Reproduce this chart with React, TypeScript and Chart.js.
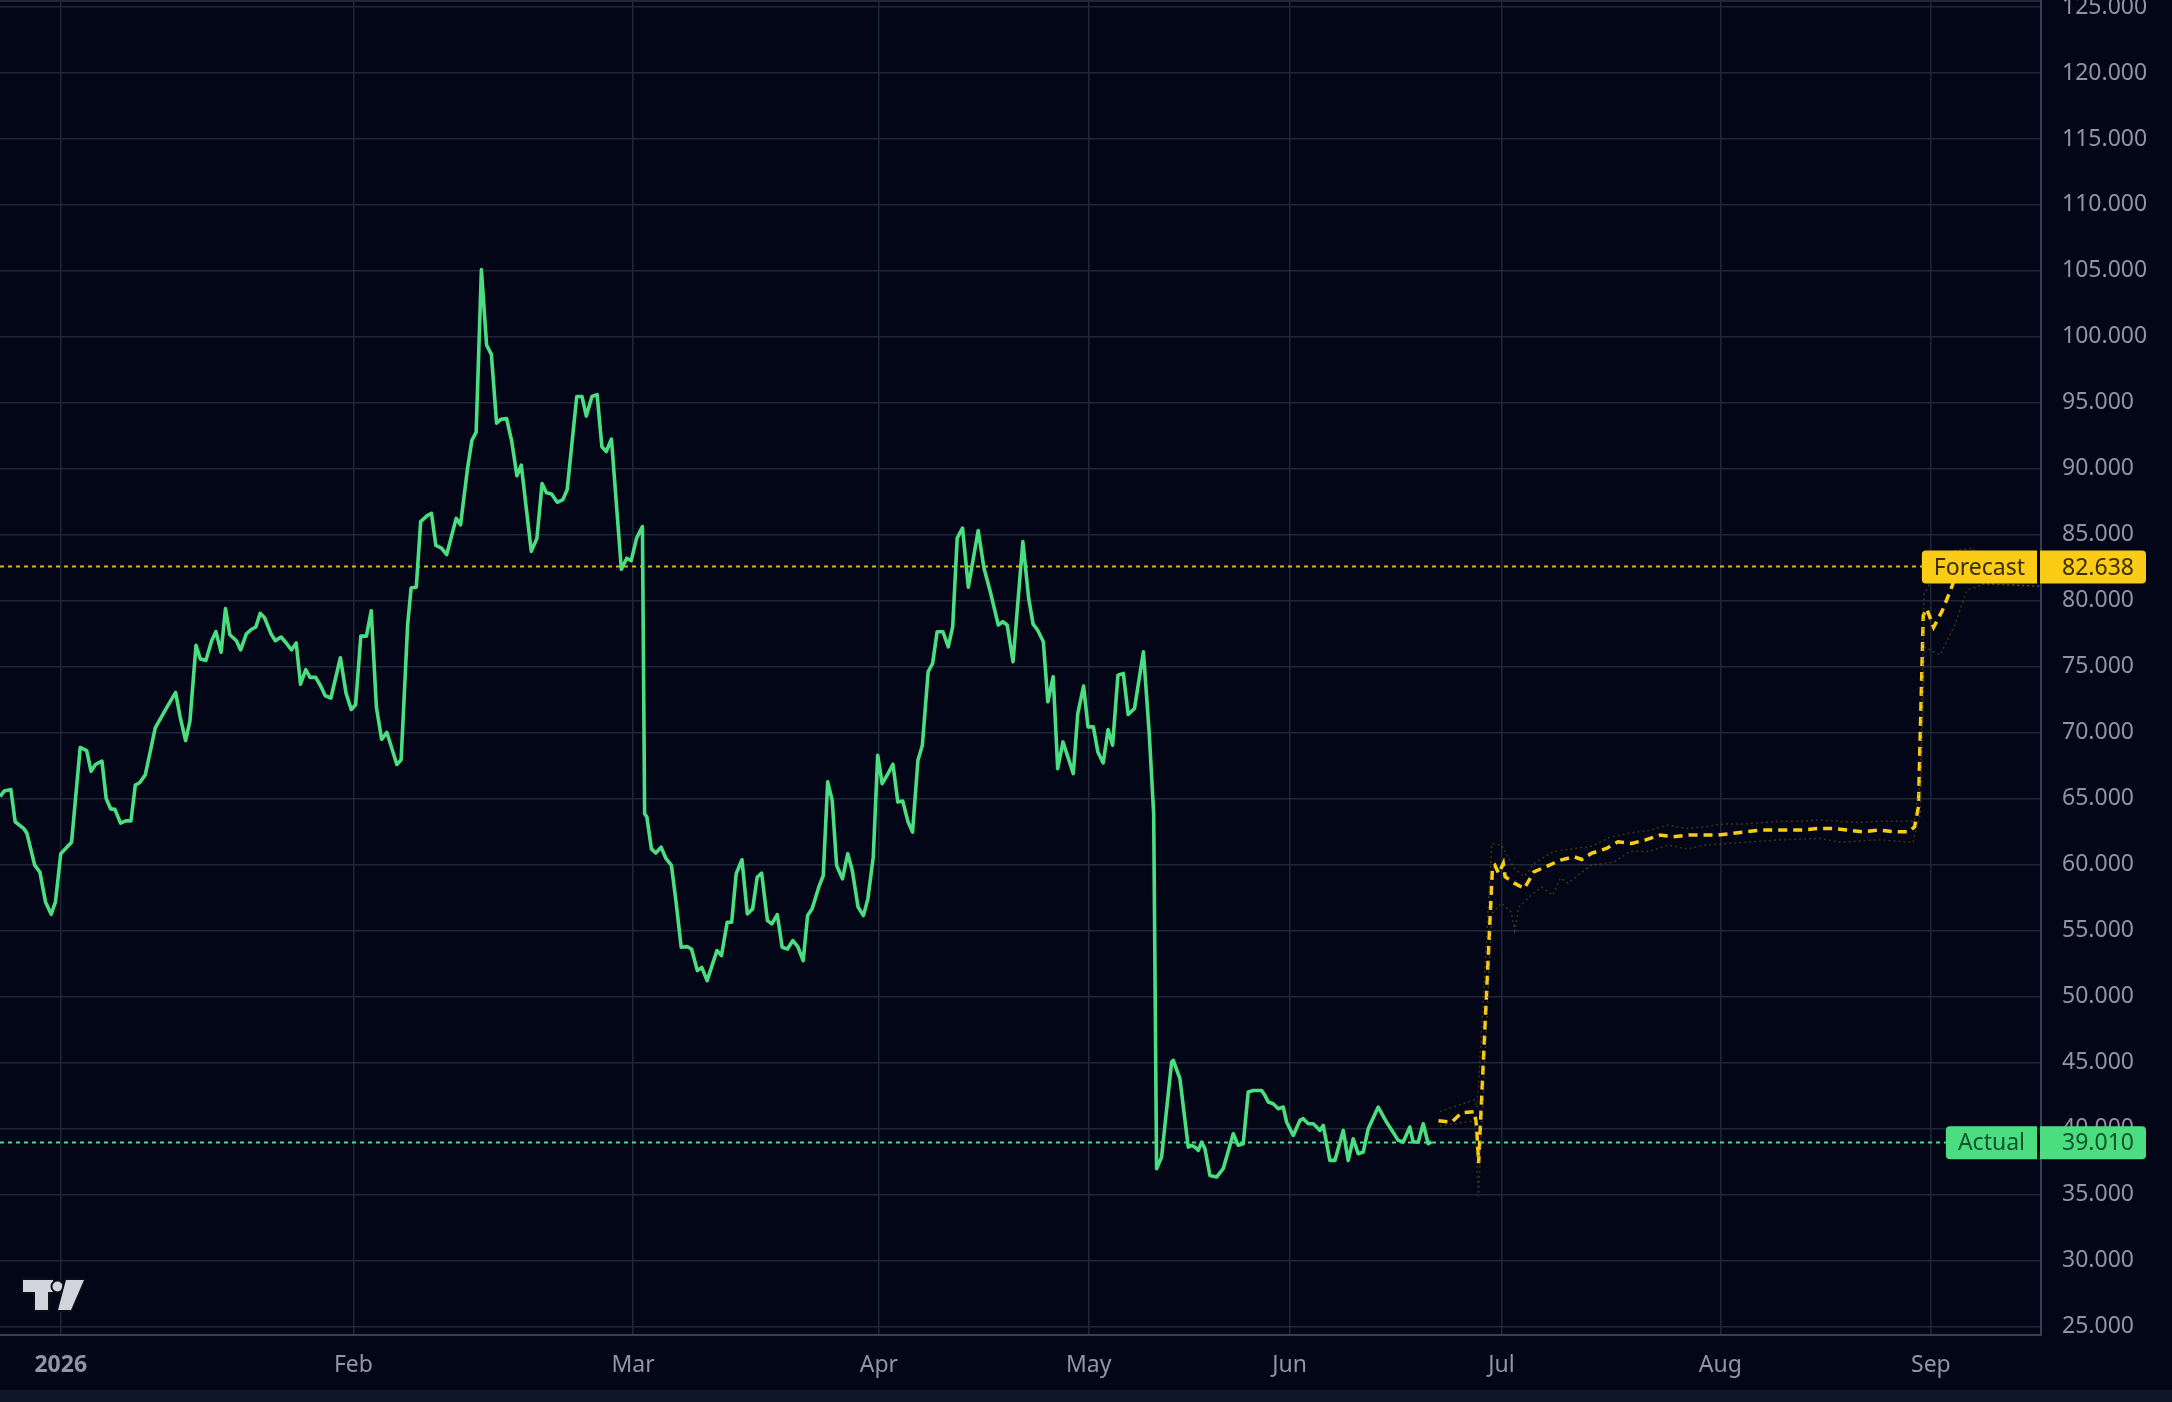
import React, { useEffect, useRef } from "react";
import { Chart, registerables } from "chart.js";

Chart.register(...registerables);

// ---------- axis data ----------
const monthLabels = ["2026", "Feb", "Mar", "Apr", "May", "Jun", "Jul", "Aug", "Sep"];
// logical bar index where each month starts
const monthStarts = [8.77, 51.03, 91.41, 126.9, 157.2, 186.2, 216.8, 248.4, 278.8];
const priceTicks = [25, 30, 35, 40, 45, 50, 55, 60, 65, 70, 75, 80, 85, 90, 95, 100, 105, 110, 115, 120, 125];
const X_MIN = 0;
const X_MAX = 294.7;
const Y_MIN = 24.37;
const Y_MAX = 125.53;

// ---------- series: Actual ----------
const actualX = [
  0, 0.63, 1.57, 2.19, 3.44, 3.88, 5.01, 5.76, 6.57, 7.39, 8.01, 8.77, 10.02, 10.33, 11.58, 12.52, 13.15, 13.78, 14.72,
  15.34, 15.97, 16.59, 17.41, 18.16, 18.91, 19.54, 20.16, 20.98, 22.42, 23.17, 24.11, 25.36, 25.99, 26.8, 27.43, 28.3,
  28.93, 29.74, 30.56, 31.18, 31.93, 32.56, 33.19, 34.13, 34.75, 35.57, 36.32, 36.94, 37.57, 38.2, 39.14, 39.76, 40.58,
  41.33, 42.08, 42.77, 43.39, 44.15, 44.77, 45.59, 46.34, 46.96, 47.78, 49.15, 49.97, 50.72, 51.35, 52.1, 52.91, 53.6,
  54.35, 55.1, 55.86, 57.3, 57.92, 58.86, 59.36, 60.11, 60.74, 61.68, 62.3, 62.93, 63.74, 64.5, 65.87, 66.5, 67.5, 68.13,
  68.75, 69.51, 70.26, 70.95, 71.7, 72.32, 73.14, 73.89, 74.64, 75.27, 76.71, 77.52, 78.27, 78.9, 79.65, 80.46, 81.28,
  81.9, 83.28, 84.03, 84.66, 85.47, 86.22, 86.91, 87.54, 88.29, 89.72, 90.5, 91.14, 91.92, 92.76, 93.08, 93.4, 94.05,
  94.69, 95.46, 96.17, 96.95, 97.59, 98.36, 99.2, 99.85, 100.69, 101.33, 102.1, 103.52, 104.17, 105.0, 105.65, 106.3,
  107.13, 107.91, 108.68, 109.33, 109.97, 110.81, 111.45, 112.23, 112.94, 113.71, 114.48, 115.19, 115.97, 116.61, 117.26,
  118.22, 118.87, 119.51, 120.16, 120.8, 121.64, 122.41, 123.06, 123.9, 124.67, 125.31, 126.09, 126.73, 127.38, 128.22,
  128.93, 129.64, 130.34, 131.12, 131.76, 132.54, 133.18, 134.02, 134.66, 135.31, 136.15, 136.92, 137.56, 138.21, 138.98,
  139.82, 141.24, 142.08, 143.05, 144.14, 144.79, 145.43, 146.27, 147.69, 148.53, 149.17, 149.81, 150.65, 151.3, 152.07,
  152.72, 153.49, 154.97, 155.62, 156.46, 157.1, 157.87, 158.52, 159.29, 160.0, 160.65, 161.42, 162.2, 162.9, 163.81,
  165.1, 165.94, 166.58, 167.0, 167.72, 169.17, 169.41, 170.37, 171.57, 172.05, 172.53, 173.02, 173.5, 173.98, 174.7,
  175.66, 176.62, 178.07, 178.79, 179.51, 180.23, 180.96, 182.16, 182.64, 183.12, 183.84, 184.57, 185.29, 185.77, 186.73,
  187.69, 188.17, 188.9, 189.62, 190.1, 190.58, 191.06, 192.02, 192.75, 193.95, 194.67, 195.39, 196.11, 196.84, 197.56,
  199.0, 200.2, 201.89, 202.61, 203.57, 204.05, 204.78, 205.5, 206.22, 206.7,
];
const actualY = [
  65.17, 65.6, 65.7, 63.26, 62.74, 62.4, 59.97, 59.44, 57.19, 56.25, 57.19, 60.83, 61.53, 61.7, 68.89, 68.65, 67.08, 67.6, 67.85,
  65.0, 64.24, 64.2, 63.16, 63.33, 63.33, 66.04, 66.22, 66.81, 70.38, 71.08, 71.94, 73.06, 71.25, 69.41, 70.9, 76.63,
  75.59, 75.49, 76.98, 77.67, 76.11, 79.41, 77.43, 76.98, 76.28, 77.5, 77.85, 78.02, 79.06, 78.72, 77.5, 76.98, 77.26,
  76.81, 76.28, 76.81, 73.68, 74.79, 74.2, 74.2, 73.51, 72.81, 72.64, 75.69, 72.99, 71.77, 72.12, 77.33, 77.33, 79.24,
  71.94, 69.51, 70.03, 67.6, 67.95, 78.19, 80.97, 81.04, 86.0, 86.46, 86.63, 84.2, 83.99, 83.51, 86.25, 85.76, 90.0, 92.15,
  92.78, 105.1, 99.38, 98.68, 93.47, 93.75, 93.82, 92.08, 89.48, 90.28, 83.75, 84.72, 88.89, 88.19, 88.09, 87.47, 87.67,
  88.44, 95.49, 95.49, 94.0, 95.49, 95.63, 91.67, 91.32, 92.26, 82.39, 83.23, 83.05, 84.75, 85.63, 63.87, 63.62, 61.21,
  60.89, 61.34, 60.46, 59.95, 57.29, 53.75, 53.8, 53.62, 51.98, 52.23, 51.22, 53.5, 53.12, 55.65, 55.65, 59.32,
  60.38, 56.28, 56.66, 59.06, 59.37, 55.77, 55.52, 56.23, 53.75, 53.62, 54.26, 53.8, 52.74, 56.15, 56.66,
  58.3, 59.19, 66.28, 64.88, 59.95, 58.94, 60.84, 59.57, 56.79, 56.15, 57.42, 60.58, 68.3, 66.15, 66.91,
  67.62, 64.76, 64.83, 63.24, 62.48, 67.92, 69.06, 74.63, 75.26, 77.66, 77.66, 76.52, 78.04, 84.75, 85.51,
  81.03, 85.33, 82.47, 80.57, 78.17, 78.42, 78.17, 75.38, 84.49, 80.19, 78.24, 77.79, 76.9, 72.35, 74.25,
  67.29, 69.31, 66.91, 71.46, 73.54, 70.45, 70.45, 68.55, 67.72, 70.25, 69.06, 74.37, 74.5, 71.39, 71.84,
  76.14, 69.94, 63.87, 36.97, 37.85, 45.05, 45.18, 43.79, 38.61, 38.74, 38.61, 38.36, 38.99, 38.48, 36.46,
  36.34, 36.97, 39.62, 38.74, 38.86, 42.78, 42.9, 42.9, 42.53, 42.02, 41.89, 41.52, 41.64, 40.51, 39.49,
  40.63, 40.76, 40.38, 40.38, 40.13, 39.87, 40.25, 37.6, 37.6, 39.87, 37.6, 39.24, 38.11, 38.23, 40.0,
  41.64, 40.51, 39.12, 38.99, 40.13, 38.99, 38.99, 40.38, 38.86, 39.01,
];

// ---------- series: Forecast ----------
const forecastX = [
  207.7, 209.6, 211.0, 212.9, 213.2, 213.5, 215.5, 215.84, 216.4, 217.06, 217.33, 218.71, 220.09, 221.48, 223.41, 225.34,
  227.28, 228.38, 229.76, 231.97, 233.63, 235.57, 237.5, 239.71, 241.64, 243.85, 245.79, 248.0, 249.93, 252.14, 254.07,
  256.28, 258.49, 260.43, 262.36, 264.57, 266.78, 268.99, 271.2, 273.41, 275.62, 276.45, 277.0, 277.7, 278.2, 279.2,
  280.4, 281.4, 282.2, 282.8,
];
const forecastY = [
  40.6, 40.5, 41.2, 41.3, 40.2, 37.4, 59.85, 59.97, 59.34, 60.1, 59.09, 58.59, 58.21, 59.47, 59.9, 60.35,
  60.61, 60.4, 60.86, 61.24, 61.74, 61.62, 61.87, 62.25, 62.12, 62.25, 62.25, 62.25, 62.37, 62.5, 62.63,
  62.63, 62.63, 62.63, 62.75, 62.75, 62.63, 62.5, 62.63, 62.5, 62.5, 62.88, 64.39, 78.9, 79.4, 78.0,
  79.2, 80.5, 81.6, 82.638,
];

// ---------- faint forecast band ----------
const upperX = [
  207.9, 212.9, 213.3, 215.4, 216.8, 217.3, 218.7, 220.1, 221.5, 224.2, 227.0, 229.8, 232.5, 235.3, 238.1, 240.8, 243.6,
  246.3, 249.1, 251.9, 254.6, 257.4, 260.2, 262.9, 265.7, 268.4, 271.2, 274.0, 276.4, 277.3, 277.8, 280.0, 282.0, 284.9,
  286.3, 294.7,
];
const upperY = [
  41.3, 42.2, 41.6, 61.6, 61.5, 61.0, 59.7, 59.1, 60.1, 61.0, 61.2, 61.4, 62.1, 62.4, 62.6, 63.0, 62.75,
  62.9, 63.1, 63.1, 63.2, 63.3, 63.3, 63.4, 63.3, 63.2, 63.3, 63.3, 63.3, 66.4, 80.5, 82.6, 83.8, 84.0,
  81.3, 81.1,
];
const lowerX = [
  207.9, 212.9, 213.47, 215.4, 216.8, 218.2, 218.7, 219.3, 220.9, 222.6, 224.2, 225.3, 226.4, 227.6, 229.8, 233.1, 235.3,
  238.1, 240.8, 243.6, 246.3, 251.9, 257.4, 262.9, 265.7, 271.2, 276.2, 277.3, 277.9, 280.1, 282.2, 284.0, 286.6, 294.7,
];
const lowerY = [
  40.2, 40.6, 34.85, 56.3, 57.1, 56.4, 55.0, 56.8, 57.6, 58.3, 57.7, 59.0, 58.6, 59.1, 60.0, 60.2, 61.0,
  61.0, 61.5, 61.2, 61.5, 61.7, 61.9, 62.0, 61.7, 61.9, 61.7, 63.9, 76.5, 75.9, 78.1, 80.8, 81.3, 81.1,
];

const actualLast = 39.01;
const forecastLast = 82.638;

// ---------- styles ----------
const BG = "#020617";
const BAND = "#0f172a";
const GRID = "#1e2738";
const BORDER = "#334155";
const TICK = "#9096a1";
const GREEN = "#4ade80";
const YELLOW = "#facc15";
const FONT = "'Noto Sans', 'Open Sans', sans-serif";

const fmt = (v: number) => v.toFixed(3);

const markers = [
  { label: "Forecast", value: forecastLast, bg: YELLOW, line: "#eab308", text: "#3b2f00" },
  { label: "Actual", value: actualLast, bg: GREEN, line: GREEN, text: "#14532d" },
];

function markerGeom(chart: any, ctx: CanvasRenderingContext2D, m: any) {
  const area = chart.chartArea;
  ctx.font = `23px ${FONT}`;
  const w = ctx.measureText(m.label).width;
  const textRight = area.right - 16;
  const boxLeft = textRight - w - 12;
  const boxRight = area.right - 4;
  const y = chart.scales.y.getPixelForValue(m.value);
  return { w, textRight, boxLeft, boxRight, y };
}

const decorPlugin = {
  id: "decor",
  beforeDraw(chart: any) {
    const { ctx, width, height, chartArea } = chart;
    ctx.save();
    ctx.fillStyle = BG;
    ctx.fillRect(0, 0, width, height);
    ctx.fillStyle = BAND;
    ctx.fillRect(0, height - 12, width, 12);
    ctx.fillStyle = GRID;
    ctx.fillRect(0, 0, chartArea.right, 2);
    ctx.restore();
  },
  beforeDatasetsDraw(chart: any) {
    const { ctx, chartArea } = chart;
    ctx.save();
    markers.forEach((m) => {
      const g = markerGeom(chart, ctx, m);
      ctx.beginPath();
      ctx.setLineDash([4, 4]);
      ctx.lineWidth = 2;
      ctx.strokeStyle = m.line;
      ctx.moveTo(chartArea.left, Math.round(g.y) + 0.5);
      ctx.lineTo(g.boxLeft, Math.round(g.y) + 0.5);
      ctx.stroke();
    });
    ctx.restore();
  },
  afterDraw(chart: any) {
    const { ctx, chartArea } = chart;
    ctx.save();
    markers.forEach((m) => {
      const g = markerGeom(chart, ctx, m);
      const h = 33;
      const top = g.y - h / 2 + 1;
      ctx.fillStyle = m.bg;
      ctx.beginPath();
      (ctx as any).roundRect(g.boxLeft, top, g.boxRight - g.boxLeft, h, [4, 0, 0, 4]);
      ctx.fill();
      ctx.beginPath();
      (ctx as any).roundRect(chartArea.right - 1, top, 106, h, [0, 4, 4, 0]);
      ctx.fill();
      ctx.fillStyle = m.text;
      ctx.font = `23px ${FONT}`;
      ctx.textBaseline = "middle";
      ctx.textAlign = "right";
      ctx.fillText(m.label, g.textRight, top + h / 2 + 1);
      ctx.textAlign = "left";
      ctx.fillText(fmt(m.value), chartArea.right + 21, top + h / 2 + 1);
    });
    ctx.restore();
  },
};

const toPoints = (xs: number[], ys: number[]) => xs.map((x, i) => ({ x, y: ys[i] }));

export default function App() {
  const ref = useRef<HTMLCanvasElement | null>(null);

  useEffect(() => {
    if (!ref.current) return;
    Chart.defaults.font.family = FONT;
    const chart = new Chart(ref.current, {
      type: "line",
      data: {
        datasets: [
          {
            label: "Upper",
            data: toPoints(upperX, upperY),
            borderColor: "rgba(120,98,14,0.5)",
            borderWidth: 1.5,
            borderDash: [2, 3],
            pointRadius: 0,
            tension: 0,
          },
          {
            label: "Lower",
            data: toPoints(lowerX, lowerY),
            borderColor: "rgba(120,98,14,0.5)",
            borderWidth: 1.5,
            borderDash: [2, 3],
            pointRadius: 0,
            tension: 0,
          },
          {
            label: "Forecast",
            data: toPoints(forecastX, forecastY),
            borderColor: YELLOW,
            borderWidth: 3.5,
            borderDash: [9, 6],
            pointRadius: 0,
            tension: 0,
          },
          {
            label: "Actual",
            data: toPoints(actualX, actualY),
            borderColor: GREEN,
            borderWidth: 3.6,
            pointRadius: 0,
            tension: 0,
            borderJoinStyle: "round",
          },
        ],
      },
      options: {
        animation: false,
        responsive: true,
        maintainAspectRatio: false,
        layout: { padding: 0 },
        plugins: { legend: { display: false }, tooltip: { enabled: false } },
        scales: {
          x: {
            type: "linear",
            min: X_MIN,
            max: X_MAX,
            afterBuildTicks: (s: any) => {
              s.ticks = monthStarts.map((v) => ({ value: v }));
            },
            afterFit: (s: any) => {
              s.height = 67;
              s.paddingLeft = 0;
              s.paddingRight = 0;
            },
            ticks: {
              autoSkip: false,
              maxRotation: 0,
              color: TICK,
              padding: 17,
              font: (c: any) => ({ size: 23, family: FONT, weight: c.index === 0 ? "bold" : "normal" }),
              callback: (_v: any, i: number) => monthLabels[i],
            },
            grid: { color: GRID, lineWidth: 1.5, drawTicks: false },
            border: { color: BORDER, width: 2 },
          },
          y: {
            type: "linear",
            position: "right",
            min: Y_MIN,
            max: Y_MAX,
            afterBuildTicks: (s: any) => {
              s.ticks = priceTicks.map((v) => ({ value: v }));
            },
            afterFit: (s: any) => {
              s.width = 131;
              s.paddingTop = 0;
              s.paddingBottom = 0;
            },
            ticks: {
              color: TICK,
              padding: 21,
              font: { size: 23, family: FONT },
              callback: (v: any) => fmt(Number(v)),
            },
            grid: { color: GRID, lineWidth: 1.5, drawTicks: false },
            border: { color: BORDER, width: 2 },
          },
        },
      },
      plugins: [decorPlugin],
    } as any);
    return () => chart.destroy();
  }, []);

  return (
    <div style={{ position: "relative", width: 2172, height: 1402, background: BG, overflow: "hidden" }}>
      <style>{`html,body{margin:0;padding:0;background:${BG};}`}</style>
      <canvas ref={ref} style={{ display: "block" }} />
      <svg
        width={2172}
        height={1402}
        style={{ position: "absolute", left: 0, top: 0, pointerEvents: "none" }}
      >
        <g fill="#d1d4dc" stroke="#0b0e14" strokeWidth={4} style={{ paintOrder: "stroke" } as any} strokeLinejoin="round">
          <path d="M23 1280 H53 V1292 H48 V1310 H35 V1292 H23 Z" />
          <circle cx={57.5} cy={1286.5} r={5} />
          <path d="M66 1280 H84 L71 1310 H58 Z" />
        </g>
      </svg>
    </div>
  );
}
